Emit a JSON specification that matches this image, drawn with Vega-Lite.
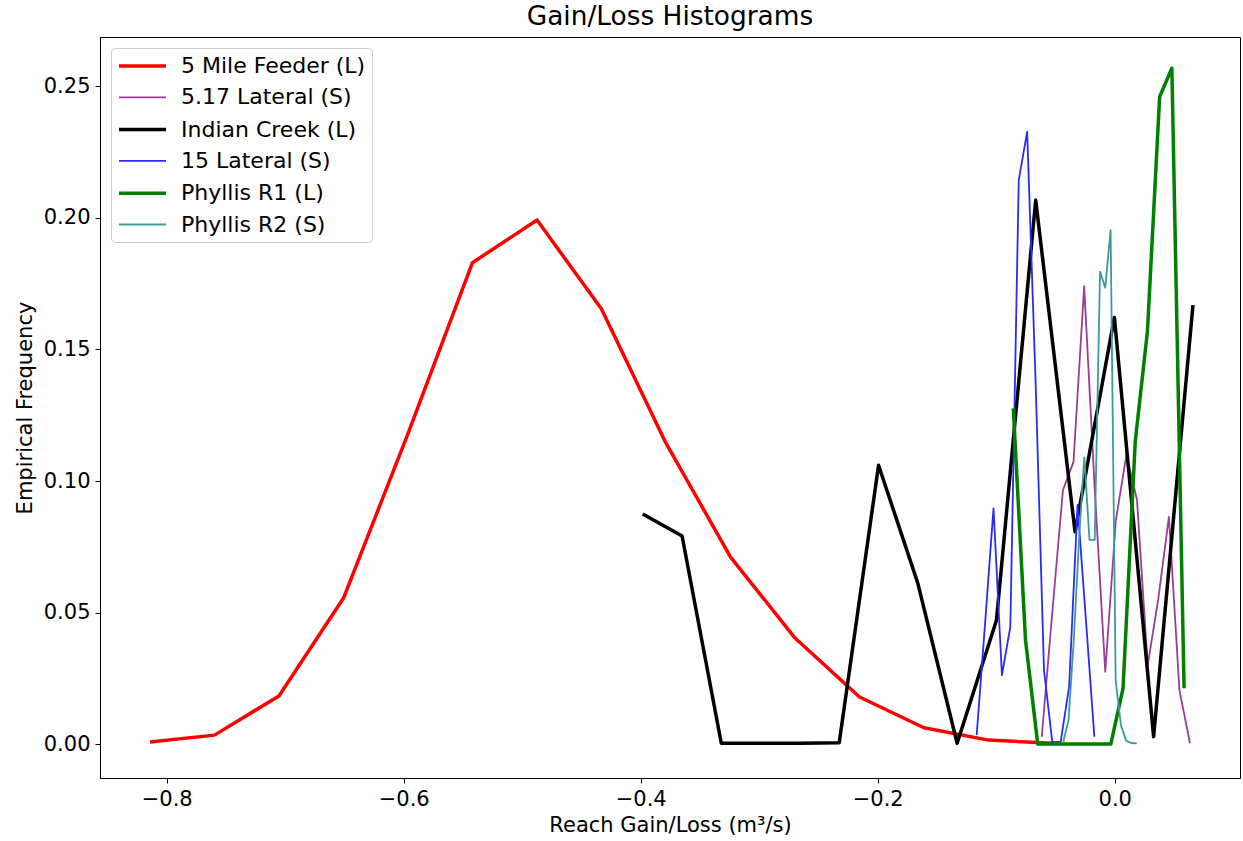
{
  "$schema": "https://vega.github.io/schema/vega-lite/v6.json",
  "autosize": {"type": "none"},
  "padding": {"left": 100, "top": 37, "right": 3, "bottom": 63},
  "width": 1140,
  "height": 741,
  "config": {
    "font": "DejaVu Sans",
    "view": {"stroke": "#000000", "strokeWidth": 1},
    "axis": {"grid": false, "domainColor": "#000000", "tickColor": "#000000", "labelColor": "#000000", "titleColor": "#000000", "labelFontSize": 21, "titleFontSize": 21, "titleFontWeight": "normal", "tickSize": 5, "labelPadding": 5}
  },
  "title": {"text": "Gain/Loss Histograms", "fontSize": 26.4, "fontWeight": "normal", "color": "#000000", "offset": 7},
  "data": {"values": [
    {"s": "5 Mile Feeder (L)", "x": -0.8141, "y": 0.0008},
    {"s": "5 Mile Feeder (L)", "x": -0.7597, "y": 0.0034},
    {"s": "5 Mile Feeder (L)", "x": -0.7053, "y": 0.0183},
    {"s": "5 Mile Feeder (L)", "x": -0.6508, "y": 0.0555},
    {"s": "5 Mile Feeder (L)", "x": -0.5964, "y": 0.118},
    {"s": "5 Mile Feeder (L)", "x": -0.5420, "y": 0.183},
    {"s": "5 Mile Feeder (L)", "x": -0.4875, "y": 0.1992},
    {"s": "5 Mile Feeder (L)", "x": -0.4331, "y": 0.1654},
    {"s": "5 Mile Feeder (L)", "x": -0.3787, "y": 0.1144},
    {"s": "5 Mile Feeder (L)", "x": -0.3242, "y": 0.0711},
    {"s": "5 Mile Feeder (L)", "x": -0.2698, "y": 0.0403},
    {"s": "5 Mile Feeder (L)", "x": -0.2154, "y": 0.0179},
    {"s": "5 Mile Feeder (L)", "x": -0.1610, "y": 0.0062},
    {"s": "5 Mile Feeder (L)", "x": -0.1065, "y": 0.0015},
    {"s": "5 Mile Feeder (L)", "x": -0.0521, "y": 0.0003},

    {"s": "5.17 Lateral (S)", "x": -0.0616, "y": 0.0028},
    {"s": "5.17 Lateral (S)", "x": -0.0527, "y": 0.050},
    {"s": "5.17 Lateral (S)", "x": -0.0437, "y": 0.0966},
    {"s": "5.17 Lateral (S)", "x": -0.0348, "y": 0.1073},
    {"s": "5.17 Lateral (S)", "x": -0.0258, "y": 0.1741},
    {"s": "5.17 Lateral (S)", "x": -0.0169, "y": 0.097},
    {"s": "5.17 Lateral (S)", "x": -0.0080, "y": 0.0275},
    {"s": "5.17 Lateral (S)", "x": 0.0009, "y": 0.085},
    {"s": "5.17 Lateral (S)", "x": 0.0099, "y": 0.110},
    {"s": "5.17 Lateral (S)", "x": 0.0188, "y": 0.0928},
    {"s": "5.17 Lateral (S)", "x": 0.0278, "y": 0.030},
    {"s": "5.17 Lateral (S)", "x": 0.0367, "y": 0.055},
    {"s": "5.17 Lateral (S)", "x": 0.0457, "y": 0.0864},
    {"s": "5.17 Lateral (S)", "x": 0.0546, "y": 0.0205},
    {"s": "5.17 Lateral (S)", "x": 0.0635, "y": 0.0003},

    {"s": "Indian Creek (L)", "x": -0.3983, "y": 0.0875},
    {"s": "Indian Creek (L)", "x": -0.3651, "y": 0.0791},
    {"s": "Indian Creek (L)", "x": -0.3320, "y": 0.0003},
    {"s": "Indian Creek (L)", "x": -0.2988, "y": 0.0003},
    {"s": "Indian Creek (L)", "x": -0.2657, "y": 0.0003},
    {"s": "Indian Creek (L)", "x": -0.2325, "y": 0.0005},
    {"s": "Indian Creek (L)", "x": -0.1993, "y": 0.106},
    {"s": "Indian Creek (L)", "x": -0.1662, "y": 0.0612},
    {"s": "Indian Creek (L)", "x": -0.1330, "y": 0.0003},
    {"s": "Indian Creek (L)", "x": -0.0998, "y": 0.0471},
    {"s": "Indian Creek (L)", "x": -0.0667, "y": 0.2068},
    {"s": "Indian Creek (L)", "x": -0.0335, "y": 0.0807},
    {"s": "Indian Creek (L)", "x": -0.0003, "y": 0.1622},
    {"s": "Indian Creek (L)", "x": 0.0328, "y": 0.0028},
    {"s": "Indian Creek (L)", "x": 0.0660, "y": 0.1669},

    {"s": "15 Lateral (S)", "x": -0.1165, "y": 0.0034},
    {"s": "15 Lateral (S)", "x": -0.1094, "y": 0.046},
    {"s": "15 Lateral (S)", "x": -0.1023, "y": 0.0896},
    {"s": "15 Lateral (S)", "x": -0.0952, "y": 0.0262},
    {"s": "15 Lateral (S)", "x": -0.0881, "y": 0.0446},
    {"s": "15 Lateral (S)", "x": -0.0810, "y": 0.2144},
    {"s": "15 Lateral (S)", "x": -0.0739, "y": 0.2328},
    {"s": "15 Lateral (S)", "x": -0.0668, "y": 0.138},
    {"s": "15 Lateral (S)", "x": -0.0597, "y": 0.028},
    {"s": "15 Lateral (S)", "x": -0.0527, "y": 0.0008},
    {"s": "15 Lateral (S)", "x": -0.0456, "y": 0.0008},
    {"s": "15 Lateral (S)", "x": -0.0385, "y": 0.0218},
    {"s": "15 Lateral (S)", "x": -0.0314, "y": 0.0909},
    {"s": "15 Lateral (S)", "x": -0.0243, "y": 0.047},
    {"s": "15 Lateral (S)", "x": -0.0172, "y": 0.0028},

    {"s": "Phyllis R1 (L)", "x": -0.0856, "y": 0.1276},
    {"s": "Phyllis R1 (L)", "x": -0.0753, "y": 0.0395},
    {"s": "Phyllis R1 (L)", "x": -0.0650, "y": 0.0},
    {"s": "Phyllis R1 (L)", "x": -0.0547, "y": 0.0},
    {"s": "Phyllis R1 (L)", "x": -0.0444, "y": 0.0},
    {"s": "Phyllis R1 (L)", "x": -0.0341, "y": 0.0},
    {"s": "Phyllis R1 (L)", "x": -0.0239, "y": 0.0},
    {"s": "Phyllis R1 (L)", "x": -0.0136, "y": 0.0},
    {"s": "Phyllis R1 (L)", "x": -0.0033, "y": 0.0},
    {"s": "Phyllis R1 (L)", "x": 0.0070, "y": 0.0212},
    {"s": "Phyllis R1 (L)", "x": 0.0173, "y": 0.115},
    {"s": "Phyllis R1 (L)", "x": 0.0276, "y": 0.157},
    {"s": "Phyllis R1 (L)", "x": 0.0379, "y": 0.2461},
    {"s": "Phyllis R1 (L)", "x": 0.0482, "y": 0.2569},
    {"s": "Phyllis R1 (L)", "x": 0.0585, "y": 0.0212},

    {"s": "Phyllis R2 (S)", "x": -0.0434, "y": 0.0009},
    {"s": "Phyllis R2 (S)", "x": -0.0390, "y": 0.009},
    {"s": "Phyllis R2 (S)", "x": -0.0345, "y": 0.040},
    {"s": "Phyllis R2 (S)", "x": -0.0301, "y": 0.078},
    {"s": "Phyllis R2 (S)", "x": -0.0257, "y": 0.109},
    {"s": "Phyllis R2 (S)", "x": -0.0213, "y": 0.0776},
    {"s": "Phyllis R2 (S)", "x": -0.0169, "y": 0.0776},
    {"s": "Phyllis R2 (S)", "x": -0.0124, "y": 0.1796},
    {"s": "Phyllis R2 (S)", "x": -0.0080, "y": 0.1735},
    {"s": "Phyllis R2 (S)", "x": -0.0035, "y": 0.1954},
    {"s": "Phyllis R2 (S)", "x": 0.0008, "y": 0.024},
    {"s": "Phyllis R2 (S)", "x": 0.0053, "y": 0.007},
    {"s": "Phyllis R2 (S)", "x": 0.0097, "y": 0.0012},
    {"s": "Phyllis R2 (S)", "x": 0.0141, "y": 0.0004},
    {"s": "Phyllis R2 (S)", "x": 0.0186, "y": 0.0003}
  ]},
  "mark": {"type": "line", "clip": true, "strokeJoin": "round"},
  "encoding": {
    "x": {"field": "x", "type": "quantitative", "scale": {"domain": [-0.8563, 0.1057], "nice": false, "zero": false},
      "axis": {"values": [-0.8, -0.6, -0.4, -0.2, 0.0], "format": ".1f", "title": "Reach Gain/Loss (m³/s)", "titlePadding": 5}},
    "y": {"field": "y", "type": "quantitative", "scale": {"domain": [-0.0129, 0.2688], "nice": false, "zero": false},
      "axis": {"values": [0, 0.05, 0.1, 0.15, 0.2, 0.25], "format": ".2f", "title": "Empirical Frequency", "titlePadding": 8}},
    "color": {"field": "s", "type": "nominal",
      "scale": {"domain": ["5 Mile Feeder (L)", "5.17 Lateral (S)", "Indian Creek (L)", "15 Lateral (S)", "Phyllis R1 (L)", "Phyllis R2 (S)"],
                "range": ["#ff0000", "#9a3d9a", "#000000", "#2a2aff", "#008000", "#3d9a9a"]},
      "legend": {"title": null, "orient": "top-left", "offset": 11, "symbolType": "M-1,0H3.7", "symbolSize": 400, "labelFontSize": 22, "labelColor": "#000000", "labelLimit": 400, "labelOffset": 40, "rowPadding": 9.3, "padding": 6, "strokeColor": "#cccccc", "fillColor": "#ffffff", "cornerRadius": 4}},
    "strokeWidth": {"field": "s", "type": "nominal",
      "scale": {"type": "ordinal", "domain": ["5 Mile Feeder (L)", "5.17 Lateral (S)", "Indian Creek (L)", "15 Lateral (S)", "Phyllis R1 (L)", "Phyllis R2 (S)"],
                "range": [3.5, 1.8, 3.5, 1.8, 3.5, 1.8]},
      "legend": {"title": null, "orient": "top-left", "offset": 11, "symbolType": "M-1,0H3.7", "symbolSize": 400, "labelFontSize": 22, "labelColor": "#000000", "labelLimit": 400, "labelOffset": 40, "rowPadding": 9.3, "padding": 6, "strokeColor": "#cccccc", "fillColor": "#ffffff", "cornerRadius": 4}}
  }
}
